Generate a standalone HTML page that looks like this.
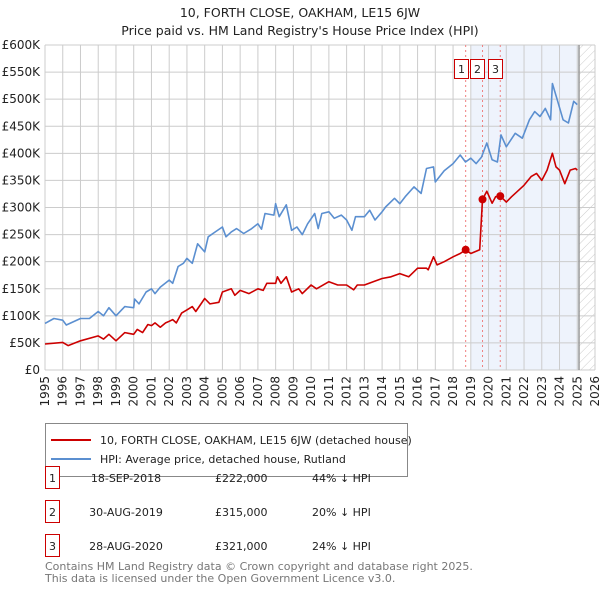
<!DOCTYPE html>
<html><head><meta charset="utf-8"><style>
body{margin:0;background:#fff;font-family:"Liberation Sans","DejaVu Sans",sans-serif;}
svg text{font-family:"DejaVu Sans","Liberation Sans",sans-serif;}
</style></head><body>
<svg id="c" width="600" height="590" viewBox="0 0 600 590" xmlns="http://www.w3.org/2000/svg">
<text x="300" y="17" text-anchor="middle" font-size="12.5" fill="#222">10, FORTH CLOSE, OAKHAM, LE15 6JW</text>
<text x="300" y="35" text-anchor="middle" font-size="12.5" fill="#222">Price paid vs. HM Land Registry's House Price Index (HPI)</text>
<defs><pattern id="hatch" width="6" height="6" patternUnits="userSpaceOnUse" patternTransform="rotate(45)"><line x1="0" y1="0" x2="0" y2="6" stroke="#ccc" stroke-width="1"/></pattern></defs>
<g id="plot"></g>
<g>
<rect x="45.5" y="423.5" width="362" height="53" fill="#fff" stroke="#888"/>
<line x1="51" y1="440" x2="91" y2="440" stroke="#cc0000" stroke-width="2"/>
<text x="100" y="444" font-size="11" fill="#222">10, FORTH CLOSE, OAKHAM, LE15 6JW (detached house)</text>
<line x1="51" y1="459" x2="91" y2="459" stroke="#5b8fd0" stroke-width="2"/>
<text x="100" y="463" font-size="11" fill="#222">HPI: Average price, detached house, Rutland</text>
</g>
<g id="table" font-size="11" fill="#222"></g>
<text x="45" y="570" font-size="11" fill="#777">Contains HM Land Registry data © Crown copyright and database right 2025.</text>
<text x="45" y="582" font-size="11" fill="#777">This data is licensed under the Open Government Licence v3.0.</text>
</svg>
<script>
const yTicks=[0,50,100,150,200,250,300,350,400,450,500,550,600];
const yTickLabels=["£0","£50K","£100K","£150K","£200K","£250K","£300K","£350K","£400K","£450K","£500K","£550K","£600K"];
const xYears=[1995,1996,1997,1998,1999,2000,2001,2002,2003,2004,2005,2006,2007,2008,2009,2010,2011,2012,2013,2014,2015,2016,2017,2018,2019,2020,2021,2022,2023,2024,2025,2026];
const hpiDates=[1995,1995.5,1996,1996.2,1997,1997.5,1998,1998.3,1998.6,1999,1999.5,2000,2000.05,2000.3,2000.7,2001,2001.2,2001.5,2002,2002.2,2002.5,2002.8,2003,2003.3,2003.6,2004,2004.2,2004.6,2005,2005.2,2005.5,2005.8,2006.2,2006.6,2007,2007.2,2007.4,2007.9,2008,2008.2,2008.6,2008.9,2009.2,2009.5,2009.8,2010.2,2010.4,2010.6,2011,2011.3,2011.7,2012,2012.3,2012.5,2013,2013.3,2013.6,2014,2014.2,2014.7,2015,2015.3,2015.8,2016.2,2016.5,2016.9,2017,2017.5,2018,2018.4,2018.7,2019,2019.3,2019.6,2019.9,2020.2,2020.5,2020.7,2021,2021.5,2021.9,2022.3,2022.6,2022.9,2023.2,2023.5,2023.6,2023.9,2024.2,2024.5,2024.8,2025.0];
const hpiValues=[86,95,92,83,95,95,108,100,115,100,117,115,131,122,144,150,141,153,166,160,191,197,206,197,233,218,246,255,264,246,255,261,252,260,270,260,289,286,307,283,305,258,264,250,270,289,261,289,292,280,286,277,258,283,283,295,277,292,301,317,307,320,338,326,372,375,347,368,381,397,384,391,381,393,419,388,384,434,412,437,428,462,477,468,483,462,529,496,462,456,496,490];
const ppDates=[1995,1996,1996.3,1997,1998,1998.3,1998.6,1999,1999.5,2000,2000.2,2000.5,2000.8,2001,2001.2,2001.5,2001.8,2002,2002.2,2002.4,2002.7,2003,2003.3,2003.5,2004,2004.3,2004.8,2005,2005.5,2005.7,2006,2006.5,2007,2007.3,2007.5,2008,2008.1,2008.3,2008.6,2008.9,2009.3,2009.5,2010,2010.3,2011,2011.5,2012,2012.4,2012.6,2013,2013.5,2014,2014.5,2015,2015.5,2016,2016.5,2016.6,2016.9,2017.1,2017.5,2018,2018.4,2018.71,2019,2019.5,2019.66,2019.9,2020.2,2020.4,2020.66,2021,2021.3,2021.7,2022,2022.4,2022.7,2023,2023.3,2023.6,2023.8,2024,2024.3,2024.6,2024.9,2025.0];
const ppValues=[48,51,45,54,63,57,66,54,69,66,75,69,84,82,87,79,87,90,93,87,105,111,117,108,132,122,125,144,150,138,147,141,150,147,160,160,172,160,172,144,150,141,157,150,163,157,157,148,157,157,163,169,172,178,172,188,188,185,209,194,200,209,215,222,215,222,315,330,308,320,321,310,320,332,341,357,363,350,369,400,375,369,344,369,372,369];
const saleDates=[2018.71,2019.66,2020.66];
const salePrices=[222,315,321];
const saleLabels=["1","2","3"];
const saleDateText=["18-SEP-2018","30-AUG-2019","28-AUG-2020"];
const salePriceText=["£222,000","£315,000","£321,000"];
const saleHpiText=["44% ↓ HPI","20% ↓ HPI","24% ↓ HPI"];

const L=45,R=595,T=45,B=370,X0=1995,X1=2026,YMAX=600;
const xs=v=>L+(v-X0)/(X1-X0)*(R-L);
const ys=v=>B-v/YMAX*(B-T);
const NS="http://www.w3.org/2000/svg";
const plot=document.getElementById('plot');
function mk(tag,attrs,parent){const e=document.createElementNS(NS,tag);for(const k in attrs)e.setAttribute(k,attrs[k]);(parent||plot).appendChild(e);return e;}

let e=mk('rect',{x:xs(2019.0),y:T,width:xs(2025.1)-xs(2019.0),height:B-T,fill:'#eef3fc'});


e=mk('rect',{x:xs(2025.1),y:T,width:R-xs(2025.1),height:B-T,fill:'url(#hatch)'});


yTicks.forEach((t,i)=>{
  let g=mk('line',{x1:L,x2:R,y1:ys(t),y2:ys(t),stroke:'#ccc','stroke-width':1});
  
  
  let tx=mk('text',{x:40,y:ys(t)+4,'text-anchor':'end','font-size':12,fill:'#222'});
  tx.textContent=yTickLabels[i];
  
  
});
xYears.forEach(yr=>{
  let g=mk('line',{x1:xs(yr),x2:xs(yr),y1:T,y2:B,stroke:'#ccc','stroke-width':1});
  
  
  const gx=mk('g',{transform:'translate('+(xs(yr)+4).toFixed(1)+' '+(B+6)+') rotate(-90)'});
  let tx=mk('text',{x:0,y:0,'text-anchor':'end','font-size':12,fill:'#222'},gx);
  tx.textContent=yr;
  
  
});
e=mk('line',{x1:xs(2025.1),x2:xs(2025.1),y1:T,y2:B,stroke:'#999','stroke-width':1.5});


saleDates.forEach((d,i)=>{
  let l=mk('line',{x1:xs(d),x2:xs(d),y1:T,y2:B,stroke:'#f08080','stroke-width':1,'stroke-dasharray':'2,3'});
  
  
});
function path(dates,vals,color,name){
  let d=dates.map((t,i)=>(i?'L':'M')+xs(t).toFixed(1)+','+ys(vals[i]).toFixed(1)).join('');
  let p=mk('path',{d:d,fill:'none',stroke:color,'stroke-width':1.6,'stroke-linejoin':'round'});
  
  
}
path(hpiDates,hpiValues,'#5b8fd0','hpi-line');
path(ppDates,ppValues,'#cc0000','property-line');
saleDates.forEach((d,i)=>{
  let c=mk('circle',{cx:xs(d),cy:ys(salePrices[i]),r:4,fill:'#cc0000'});
  
  
  const bx=[454,470,488][i];
  let r=mk('rect',{x:bx+0.5,y:59.5,width:14,height:19,fill:'#fff',stroke:'#cc0000'});
  
  
  let t=mk('text',{x:bx+7.5,y:73,'text-anchor':'middle','font-size':11,fill:'#222'});
  t.textContent=saleLabels[i];
  
  
});
const tb=document.getElementById('table');
saleDates.forEach((d,i)=>{
  const y=481+i*34;
  let r=mk('rect',{x:45.5,y:y-14.5,width:14,height:22,fill:'#fff',stroke:'#cc0000'},tb);
  
  
  let t=mk('text',{x:52.5,y:y+1,'text-anchor':'middle'},tb);t.textContent=saleLabels[i];
  
  
  t=mk('text',{x:126,y:y+1,'text-anchor':'middle'},tb);t.textContent=saleDateText[i];
  
  
  t=mk('text',{x:215,y:y+1},tb);t.textContent=salePriceText[i];
  
  
  t=mk('text',{x:312,y:y+1},tb);t.textContent=saleHpiText[i];
  
  
});
</script>
</body></html>
